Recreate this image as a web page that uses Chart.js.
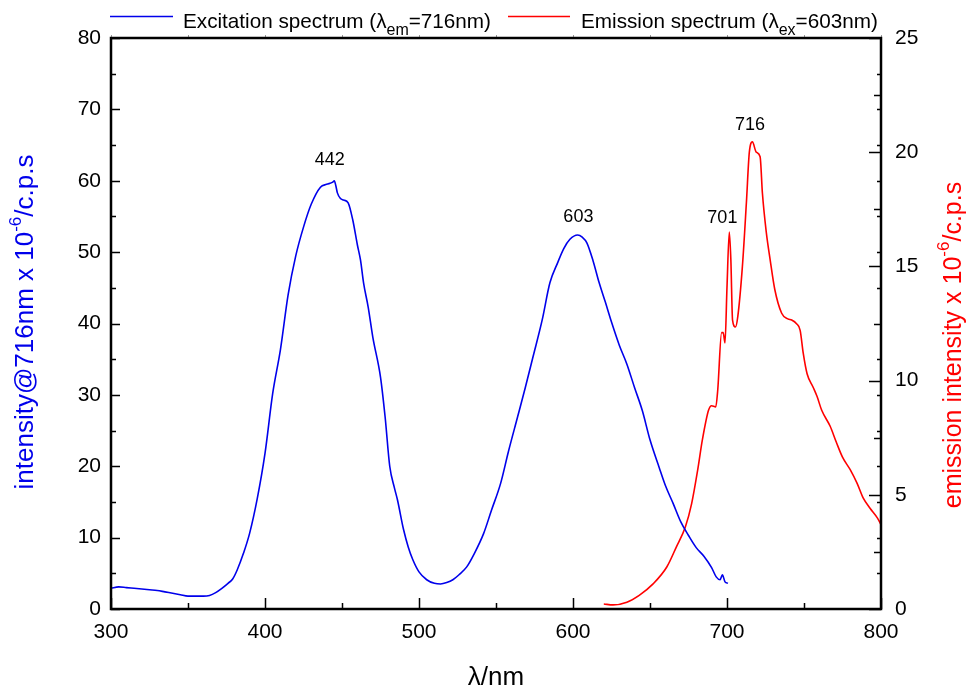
<!DOCTYPE html>
<html>
<head>
<meta charset="utf-8">
<script src="https://cdn.jsdelivr.net/npm/chart.js@4"></script>
<style>
  html, body { margin: 0; padding: 0; background: #fff; }
  #grafico { display: block; }
</style>
</head>
<body>
<canvas id="grafico" width="966" height="689"></canvas>
<script>
// Excitation spectrum (lambda_em = 716 nm), left axis
const excWl = [300, 305, 310, 315, 320, 325, 330, 335, 340, 345, 350, 355, 360, 364, 368, 372, 376, 379, 382, 386,
  390, 395, 400, 405, 410, 415, 420, 425, 430, 436, 440, 444, 445, 446, 447, 449, 451, 454, 457, 460,
  462, 464, 467, 470, 475, 478, 481, 484, 486, 490, 493, 496, 500, 505, 510, 514, 518, 522, 526, 531,
  536, 542, 547, 553, 558, 564, 569, 574, 580, 585, 590, 594, 598, 603, 606, 609, 613, 617, 621, 625,
  630, 635, 640, 645, 650, 656, 660, 665, 670, 675, 680, 685, 690, 693, 695.5, 697, 698.7, 700.6];
const excVal = [2.9, 3.1, 3.0, 2.9, 2.8, 2.7, 2.6, 2.4, 2.2, 2.0, 1.8, 1.8, 1.8, 1.9, 2.3, 2.9, 3.6, 4.2, 5.5, 7.8,
  10.6, 15.5, 21.8, 30.2, 36.3, 44.0, 49.5, 53.5, 56.7, 59.1, 59.5, 59.8, 60.0, 59.3, 58.3, 57.5, 57.3, 56.9, 54.5, 51.0,
  48.9, 45.7, 42.3, 38.1, 32.5, 26.9, 20.0, 17.0, 15.3, 11.1, 8.7, 6.9, 5.2, 4.1, 3.6, 3.5, 3.7, 4.1, 4.8, 5.9,
  7.8, 10.6, 13.8, 17.6, 22.0, 26.9, 31.0, 35.3, 40.5, 45.7, 48.5, 50.5, 51.8, 52.4, 52.1, 51.3, 48.8, 45.7, 43.0, 40.2,
  37.0, 34.3, 31.0, 27.8, 23.7, 19.8, 17.3, 14.8, 12.2, 10.3, 8.6, 7.4, 5.8, 4.5, 4.1, 4.8, 3.8, 3.6];

// Emission spectrum (lambda_ex = 603 nm), right axis
const emiWl = [620, 626, 635, 643, 652, 661, 667, 673, 677, 681, 684, 688, 690, 692.7, 694, 696.5, 697.5, 698.7, 700, 701.5,
  702.5, 703.6, 705.5, 707, 710, 712.6, 714.5, 716.5, 719, 721.5, 723, 725.5, 728, 731, 735.5, 739.5, 742, 745, 747.5, 749.5,
  752, 756, 758.5, 761.5, 767, 771, 775, 780, 784.5, 788.5, 793, 797.5, 800];
const emiVal = [0.22, 0.18, 0.3, 0.6, 1.1, 1.85, 2.7, 3.6, 4.6, 6.1, 7.4, 8.7, 8.9, 8.85, 9.6, 12.1, 12.1, 11.65, 14.1, 16.5,
  15.3, 12.65, 12.35, 12.8, 15.0, 17.8, 20.0, 20.45, 20.0, 19.8, 18.2, 16.5, 15.3, 14.0, 12.95, 12.7, 12.65, 12.5, 12.2, 11.2,
  10.3, 9.7, 9.3, 8.7, 8.0, 7.3, 6.65, 6.1, 5.5, 4.85, 4.4, 4.0, 3.7];

// Peak labels
const picoTexto = ['442', '603', '701', '716'];
const picoX = [442, 603.5, 697, 715];
const picoY = [62.9, 54.9, 17.1, 21.2];
const picoEixo = ['y', 'y', 'y2', 'y2'];

const FONTE = 'Arial, "Liberation Sans", Helvetica, sans-serif';
const AZUL = 'rgb(0, 0, 235)';
const VERMELHO = 'rgb(255, 0, 0)';

// escreve texto com partes em tamanhos/deslocamentos diferentes (sub/sobrescrito)
function textoRico(ctx, partes, x, y, alinhamento) {
    let largura = 0;
    partes.forEach(function (p) {
        ctx.font = p.tam + 'px ' + FONTE;
        largura += ctx.measureText(p.t).width;
    });
    let cx = alinhamento === 'center' ? x - largura / 2 : x;
    partes.forEach(function (p) {
        ctx.font = p.tam + 'px ' + FONTE;
        ctx.fillText(p.t, cx, y + (p.dy || 0));
        cx += ctx.measureText(p.t).width;
    });
    return largura;
}

const molduraPlugin = {
    id: 'moldura',
    afterDraw(chart) {
        const ctx = chart.ctx;
        const a = chart.chartArea;
        const sx = chart.scales.x, sy = chart.scales.y, sy2 = chart.scales.y2;
        ctx.save();
        ctx.strokeStyle = '#000';
        ctx.lineWidth = 1.5;

        // ticks internos
        ctx.beginPath();
        for (let v = 300; v <= 800; v += 50) {
            const px = Math.round(sx.getPixelForValue(v)) + 0.5;
            const len = v % 100 === 0 ? 11 : 6;
            ctx.moveTo(px, a.bottom); ctx.lineTo(px, a.bottom - len);
        }
        for (let v = 0; v <= 80; v += 5) {
            const py = Math.round(sy.getPixelForValue(v)) + 0.5;
            const len = v % 10 === 0 ? 9 : 5;
            ctx.moveTo(a.left, py); ctx.lineTo(a.left + len, py);
            ctx.moveTo(a.right, py); ctx.lineTo(a.right - 4, py);
        }
        for (let v = 0; v <= 25; v += 2.5) {
            const py = Math.round(sy2.getPixelForValue(v)) + 0.5;
            const len = v % 5 === 0 ? 12 : 7;
            ctx.moveTo(a.right, py); ctx.lineTo(a.right - len, py);
        }
        ctx.stroke();

        // ticks pequenos no topo
        ctx.strokeStyle = '#999';
        ctx.lineWidth = 1;
        ctx.beginPath();
        for (let v = 300; v <= 800; v += 50) {
            const px = Math.round(sx.getPixelForValue(v)) + 0.5;
            ctx.moveTo(px, a.top); ctx.lineTo(px, a.top - 3);
        }
        ctx.stroke();

        // caixa
        ctx.strokeStyle = '#000';
        ctx.lineWidth = 2.5;
        ctx.strokeRect(a.left, a.top, a.right - a.left, a.bottom - a.top);

        // rotulos dos picos
        ctx.fillStyle = '#000';
        ctx.textAlign = 'center';
        ctx.textBaseline = 'middle';
        ctx.font = '18px ' + FONTE;
        for (let i = 0; i < picoTexto.length; i++) {
            const esc = chart.scales[picoEixo[i]];
            ctx.fillText(picoTexto[i], sx.getPixelForValue(picoX[i]), esc.getPixelForValue(picoY[i]));
        }

        ctx.textAlign = 'left';
        ctx.textBaseline = 'alphabetic';

        // legenda
        ctx.lineWidth = 1.5;
        ctx.strokeStyle = AZUL;
        ctx.beginPath(); ctx.moveTo(110, 16.5); ctx.lineTo(173, 16.5); ctx.stroke();
        ctx.strokeStyle = VERMELHO;
        ctx.beginPath(); ctx.moveTo(508, 16.5); ctx.lineTo(570, 16.5); ctx.stroke();
        ctx.fillStyle = '#000';
        textoRico(ctx, [
            { t: 'Excitation spectrum (\u03bb', tam: 20.7 },
            { t: 'em', tam: 16, dy: 7 },
            { t: '=716nm)', tam: 20.7 }
        ], 183, 28, 'left');
        textoRico(ctx, [
            { t: 'Emission spectrum (\u03bb', tam: 20.7 },
            { t: 'ex', tam: 16, dy: 7 },
            { t: '=603nm)', tam: 20.7 }
        ], 581, 28, 'left');

        // titulos dos eixos
        ctx.fillStyle = '#000';
        textoRico(ctx, [{ t: '\u03bb/nm', tam: 26 }], 496, 685, 'center');

        ctx.fillStyle = AZUL;
        ctx.save();
        ctx.translate(33, 322);
        ctx.rotate(-Math.PI / 2);
        textoRico(ctx, [
            { t: 'intensity@716nm x 10', tam: 26 },
            { t: '-6', tam: 17, dy: -12 },
            { t: '/c.p.s', tam: 26 }
        ], 0, 0, 'center');
        ctx.restore();

        ctx.fillStyle = VERMELHO;
        ctx.save();
        ctx.translate(961, 345);
        ctx.rotate(-Math.PI / 2);
        textoRico(ctx, [
            { t: 'emission intensity x 10', tam: 25 },
            { t: '-6', tam: 17, dy: -12 },
            { t: '/c.p.s', tam: 25 }
        ], 0, 0, 'center');
        ctx.restore();

        ctx.restore();
    }
};

const ctx = document.getElementById('grafico').getContext('2d');
new Chart(ctx, {
    type: 'line',
    data: {
        datasets: [
            {
                label: 'Excitation spectrum',
                data: excWl.map((w, i) => ({ x: w, y: excVal[i] })),
                borderColor: AZUL,
                borderWidth: 1.6,
                pointRadius: 0,
                cubicInterpolationMode: 'monotone',
                yAxisID: 'y'
            },
            {
                label: 'Emission spectrum',
                data: emiWl.map((w, i) => ({ x: w, y: emiVal[i] })),
                borderColor: VERMELHO,
                borderWidth: 1.6,
                pointRadius: 0,
                cubicInterpolationMode: 'monotone',
                yAxisID: 'y2'
            }
        ]
    },
    options: {
        responsive: false,
        animation: false,
        devicePixelRatio: 1,
        layout: { padding: { top: 38, left: 0, right: 0, bottom: 0 } },
        plugins: {
            legend: { display: false },
            tooltip: { enabled: false }
        },
        scales: {
            x: {
                type: 'linear',
                position: 'bottom',
                min: 300,
                max: 800,
                afterFit: function (s) { s.height = 80; },
                ticks: {
                    stepSize: 100,
                    color: '#000',
                    padding: 11,
                    font: { size: 21, family: FONTE }
                },
                grid: { drawOnChartArea: false, drawTicks: false },
                border: { display: false }
            },
            y: {
                type: 'linear',
                position: 'left',
                min: 0,
                max: 80,
                afterFit: function (s) { s.width = 111; },
                ticks: {
                    stepSize: 10,
                    color: '#000',
                    padding: 10,
                    font: { size: 21, family: FONTE }
                },
                grid: { drawOnChartArea: false, drawTicks: false },
                border: { display: false }
            },
            y2: {
                type: 'linear',
                position: 'right',
                min: 0,
                max: 25,
                afterFit: function (s) { s.width = 85; },
                ticks: {
                    stepSize: 5,
                    color: '#000',
                    padding: 14,
                    font: { size: 21, family: FONTE }
                },
                grid: { drawOnChartArea: false, drawTicks: false },
                border: { display: false }
            }
        }
    },
    plugins: [molduraPlugin]
});
</script>
</body>
</html>
